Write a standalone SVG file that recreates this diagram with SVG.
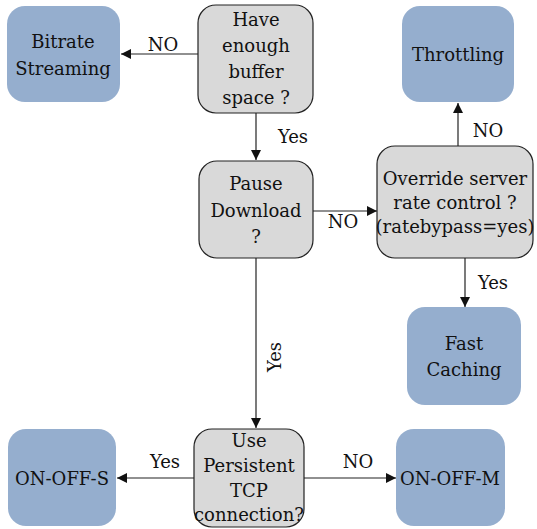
<svg xmlns="http://www.w3.org/2000/svg" width="537" height="529" viewBox="0 0 537 529">
<style>
text{font-family:"DejaVu Serif","Liberation Serif",serif;font-size:18px;fill:#111;text-anchor:middle}
.dec{fill:#d9d9d9;stroke:#222;stroke-width:1.2}
.out{fill:#95aece;stroke:none}
.c{stroke:#222;stroke-width:1.2;fill:none;marker-end:url(#ah)}
</style>
<defs>
<marker id="ah" viewBox="0 0 10 10" refX="10" refY="5" markerWidth="10" markerHeight="10" markerUnits="userSpaceOnUse" orient="auto">
<path d="M0,0 L10,5 L0,10 z" fill="#111"/>
</marker>
</defs>
<rect width="537" height="529" fill="#fff"/>
<g id="connectors">
<path class="c" d="M198,54 H121"/>
<path class="c" d="M256,113 V160"/>
<path class="c" d="M313,211 H377"/>
<path class="c" d="M458,146 V103"/>
<path class="c" d="M465,258 V307"/>
<path class="c" d="M256,258 V428"/>
<path class="c" d="M194,478 H117"/>
<path class="c" d="M304,478 H396"/>
<text x="163" y="51">NO</text>
<text x="293" y="143">Yes</text>
<text x="343" y="228">NO</text>
<text x="488" y="137">NO</text>
<text x="493" y="289">Yes</text>
<text transform="translate(281,357) rotate(-90)">Yes</text>
<text x="165" y="468">Yes</text>
<text x="358" y="468">NO</text>
</g>
<g id="bitrate">
<rect class="out" x="7" y="6" width="113" height="96" rx="18"/>
<text x="63" y="48">Bitrate</text>
<text x="63" y="75">Streaming</text>
</g>
<g id="buffer">
<rect class="dec" x="198" y="5" width="115" height="108" rx="18"/>
<text x="256" y="26">Have</text>
<text x="256" y="52">enough</text>
<text x="256" y="78">buffer</text>
<text x="256" y="104">space ?</text>
</g>
<g id="pause">
<rect class="dec" x="199" y="161" width="114" height="97" rx="18"/>
<text x="256" y="190">Pause</text>
<text x="256" y="217">Download</text>
<text x="256" y="243">?</text>
</g>
<g id="override">
<rect class="dec" x="377" y="146" width="156" height="112" rx="18"/>
<text x="455" y="185">Override server</text>
<text x="455" y="209">rate control ?</text>
<text x="455" y="233">(ratebypass=yes)</text>
</g>
<g id="throttling">
<rect class="out" x="402" y="6" width="112" height="96" rx="18"/>
<text x="458" y="61">Throttling</text>
</g>
<g id="fastcaching">
<rect class="out" x="407" y="307" width="114" height="98" rx="18"/>
<text x="464" y="350">Fast</text>
<text x="464" y="376">Caching</text>
</g>
<g id="persistent">
<rect class="dec" x="194" y="429" width="110" height="98" rx="18"/>
<text x="249" y="447">Use</text>
<text x="249" y="472">Persistent</text>
<text x="249" y="497">TCP</text>
<text x="249" y="521">connection?</text>
</g>
<g id="onoffs">
<rect class="out" x="8" y="429" width="108" height="97" rx="18"/>
<text x="62" y="485">ON-OFF-S</text>
</g>
<g id="onoffm">
<rect class="out" x="396" y="429" width="109" height="97" rx="18"/>
<text x="450" y="485">ON-OFF-M</text>
</g>
</svg>
